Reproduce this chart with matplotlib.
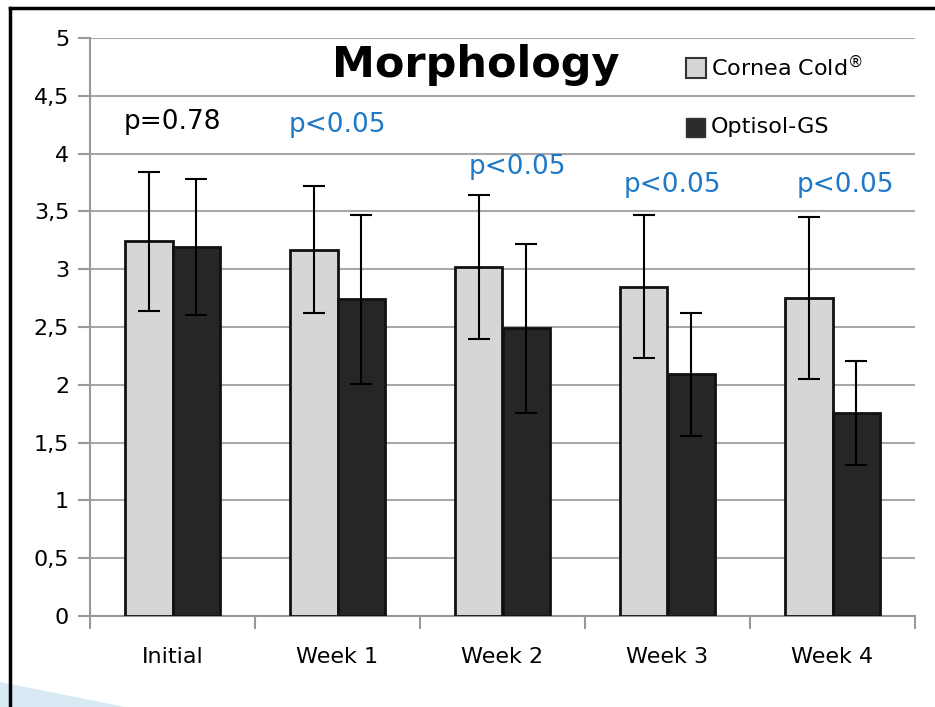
import numpy as np
import matplotlib
matplotlib.use("Agg")
import matplotlib.pyplot as plt
from matplotlib.patches import Polygon
from matplotlib.lines import Line2D

# data
categories = ["Initial", "Week 1", "Week 2", "Week 3", "Week 4"]
cornea_cold = [3.24, 3.17, 3.02, 2.85, 2.75]
cornea_cold_err = [0.60, 0.55, 0.62, 0.62, 0.70]
optisol = [3.19, 2.74, 2.49, 2.09, 1.76]
optisol_err = [0.59, 0.73, 0.73, 0.53, 0.45]
p_labels = ["p=0.78", "p<0.05", "p<0.05", "p<0.05", "p<0.05"]

# where the p-value notes sit (data coords)
p_x = [0.0, 1.0, 2.09, 3.03, 4.08]
p_y = [4.27, 4.25, 3.88, 3.73, 3.73]
p_colors = ["black", "#1f78c8", "#1f78c8", "#1f78c8", "#1f78c8"]

plt.rcParams['font.family'] = ['DejaVu Sans']

fig = plt.figure(figsize=(9.35, 7.07), dpi=100)
ax = fig.add_axes([90/935, 1 - 616/707, 825/935, (616 - 38)/707])

x = np.arange(len(categories))
w = 0.285
ax.bar(x - w/2, cornea_cold, w, color="#d6d6d6", edgecolor="#111111",
       linewidth=2, zorder=3, label="Cornea Cold®")
ax.bar(x + w/2, optisol, w, color="#262626", edgecolor="#111111",
       linewidth=2, zorder=3, label="Optisol-GS")
ax.errorbar(x - w/2, cornea_cold, yerr=cornea_cold_err, fmt="none",
            ecolor="black", elinewidth=1.5, capsize=8, capthick=1.5, zorder=4)
ax.errorbar(x + w/2, optisol, yerr=optisol_err, fmt="none",
            ecolor="black", elinewidth=1.5, capsize=8, capthick=1.5, zorder=4)

ax.set_xlim(-0.5, len(categories) - 0.5)
ax.set_ylim(0, 5)
ax.set_yticks(np.arange(0, 5.01, 0.5))
ax.set_yticklabels([f"{v:g}".replace(".", ",") for v in np.arange(0, 5.01, 0.5)])
ax.yaxis.grid(True, color="#a8a8a8", linewidth=1.5, zorder=0)
ax.set_axisbelow(True)

# category ticks on boundaries, labels centred
ax.set_xticks(np.arange(-0.5, len(categories), 1.0))
ax.set_xticklabels([])
ax.set_xticks(x, minor=True)
ax.set_xticklabels(categories, minor=True)
ax.tick_params(axis="x", which="major", length=9, width=1.5, color="#999999")
ax.tick_params(axis="x", which="minor", length=0, labelsize=16, pad=22)
ax.tick_params(axis="y", length=9, width=1.5, color="#999999", labelsize=16, pad=6)

for side in ["top", "right"]:
    ax.spines[side].set_visible(False)
for side in ["left", "bottom"]:
    ax.spines[side].set_color("#999999")
    ax.spines[side].set_linewidth(1.5)

for px, py, t, c in zip(p_x, p_y, p_labels, p_colors):
    ax.text(px, py, t, color=c, fontsize=19, ha="center", va="center", zorder=5)

ax.text(1.84, 4.77, "Morphology", fontsize=31, fontweight="bold",
        ha="center", va="center", zorder=5)

# legend as stacked square markers
fig.patches.append(plt.Rectangle((686/935, 1 - 78/707), 20/935, 20/707,
                                 transform=fig.transFigure, facecolor="#d6d6d6",
                                 edgecolor="#333333", linewidth=1.5))
fig.patches.append(plt.Rectangle((686/935, 1 - 137/707), 19/935, 19/707,
                                 transform=fig.transFigure, facecolor="#2a2a2a",
                                 edgecolor="#333333", linewidth=1))
fig.text(711/935, 1 - 67/707, r"Cornea Cold$^{\circledR}$", fontsize=16, va="center")
fig.text(711/935, 1 - 127/707, "Optisol-GS", fontsize=16, va="center")

# slide frame and decoration
fig.lines.append(Line2D([10/935, 10/935], [0, 1 - 8/707], transform=fig.transFigure,
                        color="black", linewidth=2.5))
fig.lines.append(Line2D([10/935, 1], [1 - 8/707, 1 - 8/707], transform=fig.transFigure,
                        color="black", linewidth=2.5))
fig.patches.append(Polygon([(0, 1 - 682/707), (125/935, 0), (0, 0)], closed=True,
                           transform=fig.transFigure, facecolor="#d7e9f3",
                           edgecolor="none", zorder=0))

fig.savefig("out.png", dpi=100)
